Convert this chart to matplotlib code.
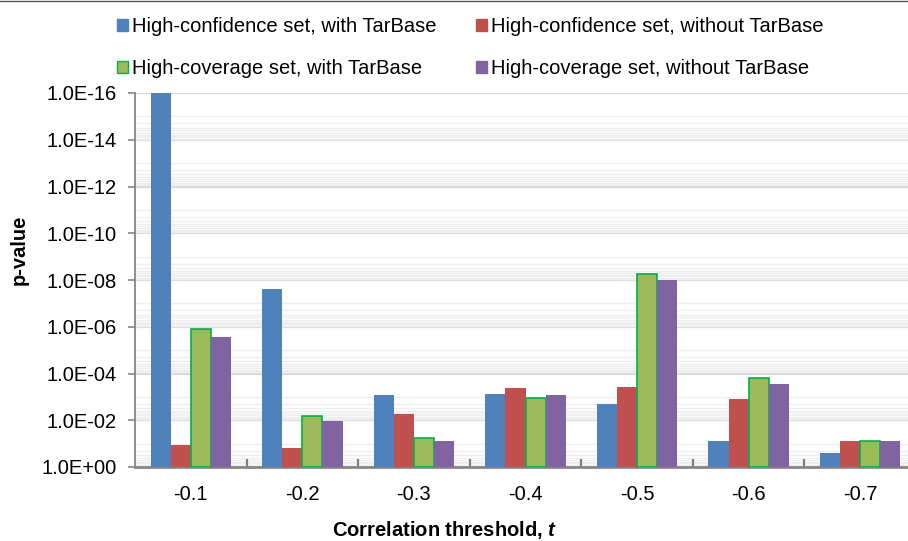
import matplotlib
matplotlib.use("Agg")
import matplotlib.pyplot as plt
import numpy as np
from matplotlib.patches import Patch
from matplotlib.lines import Line2D
from matplotlib.ticker import FixedLocator, FuncFormatter, NullFormatter

# data: p-values
thresholds = ["-0.1", "-0.2", "-0.3", "-0.4", "-0.5", "-0.6", "-0.7"]
series_names = [
    "High-confidence set, with TarBase",
    "High-confidence set, without TarBase",
    "High-coverage set, with TarBase",
    "High-coverage set, without TarBase",
]
conf_with = [1e-16, 2.4e-8, 8.3e-4, 7.8e-4, 2.1e-3, 7.9e-2, 2.6e-1]
conf_without = [1.15e-1, 1.5e-1, 5.6e-3, 4.2e-4, 3.9e-4, 1.2e-3, 7.9e-2]
cov_with = [1.2e-6, 6.5e-3, 5.8e-2, 1.1e-3, 5.5e-9, 1.6e-4, 7.6e-2]
cov_without = [2.8e-6, 1.1e-2, 7.4e-2, 8.5e-4, 1.05e-8, 2.9e-4, 7.9e-2]
y_ticks = [1e0, 1e-2, 1e-4, 1e-6, 1e-8, 1e-10, 1e-12, 1e-14, 1e-16]

colors = ["#4F81BD", "#C0504D", "#9BBB59", "#8064A2"]
edges = ["none", "none", "#00B050", "none"]

plt.rcParams["font.family"] = ["Liberation Sans", "DejaVu Sans"]
plt.rcParams["mathtext.fontset"] = "custom"
plt.rcParams["mathtext.bfit"] = "Liberation Sans:italic:bold"

fig = plt.figure(figsize=(9.08, 5.41), dpi=100)
W, H = 908, 541
ax = fig.add_axes([135 / W, 74 / H, (916 - 135) / W, 374 / H])

x = np.arange(len(thresholds))
width = 0.18
all_series = [conf_with, conf_without, cov_with, cov_without]
for i, vals in enumerate(all_series):
    p = np.array(vals)
    ax.bar(x + (i - 1.5) * width, 1 - p, bottom=p, width=width,
           color=colors[i], edgecolor=edges[i], linewidth=1.2 if edges[i] != "none" else 0,
           zorder=3)

ax.set_yscale("log")
ax.set_ylim(1, 1e-16)
ax.set_xlim(-0.5, len(thresholds) - 0.5)

# y ticks / gridlines
ax.yaxis.set_major_locator(FixedLocator(y_ticks))
ax.yaxis.set_major_formatter(FuncFormatter(lambda v, pos: "1.0E%+03d" % round(np.log10(v))))
minor = [k * 10.0 ** e for e in range(-15, 0, 2) for k in range(1, 10)]
ax.yaxis.set_minor_locator(FixedLocator(minor))
ax.yaxis.set_minor_formatter(NullFormatter())
ax.yaxis.grid(True, which="major", color="#D9D9D9", linewidth=1.6, zorder=0)
ax.yaxis.grid(True, which="minor", color="#EEEEEE", linewidth=1.0, zorder=0)
ax.set_axisbelow(True)
ax.xaxis.set_zorder(1)  # keep separator ticks above the y gridlines
ax.tick_params(axis="y", which="major", length=5, width=1.2, color="#868686",
               direction="out", pad=8, labelsize=14.5)
ax.tick_params(axis="y", which="minor", length=0)

# x ticks: labels at centres, marks between categories
ax.set_xticks(x)
ax.set_xticklabels(thresholds)
ax.set_xticks(np.arange(0.5, len(thresholds) - 0.5, 1), minor=True)
ax.tick_params(axis="x", which="major", length=0, pad=13, labelsize=14.5)
ax.tick_params(axis="x", which="minor", length=6, width=1.6, color="#7F7F7F", direction="in")

for s in ["top", "right"]:
    ax.spines[s].set_visible(False)
ax.spines["left"].set_color("#868686")
ax.spines["left"].set_linewidth(1.3)
ax.spines["bottom"].set_color("#868686")
ax.spines["bottom"].set_linewidth(2)

fig.text(19 / W, 1 - 250 / H, "p-value", rotation=90, ha="center", va="center",
         fontsize=14.5, fontweight="bold")
fig.text(445 / W, 1 - 530 / H, r"Correlation threshold, $\mathbfit{t}$", ha="center", va="center",
         fontsize=14.5, fontweight="bold")

# legend fills column-wise, so order entries to get rows: confidence / coverage
order = [0, 2, 1, 3]
handles = [Patch(facecolor=colors[i], edgecolor=edges[i] if edges[i] != "none" else colors[i])
           for i in order]
labels = [series_names[i] for i in order]
fig.legend(handles, labels, ncol=2, loc="upper left",
           bbox_to_anchor=(117 / W, 1 - 17 / H), frameon=False,
           prop={"size": 14.5},
           handlelength=0.55, handleheight=0.55, handletextpad=0.2,
           columnspacing=1.95, labelspacing=1.15, borderaxespad=0, borderpad=0)

fig.add_artist(Line2D([0, 1], [1 - 0.5 / H, 1 - 0.5 / H], color="#555555", linewidth=1))

fig.savefig("out.png", dpi=100)
